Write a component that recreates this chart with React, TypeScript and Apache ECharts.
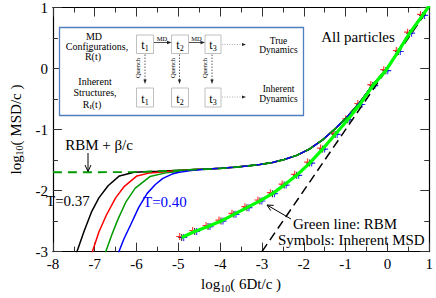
import React, { useEffect, useRef } from "react";
import * as echarts from "echarts";

const F = "Liberation Serif, 'Times New Roman', serif";

// Axis ranges
const xRange = [-8, 1];
const yRange = [-3, 1];

// Slope-one reference line (black dashed)
const diagonal: [number, number][] = [[-3, -3], [1, 1]];

// Common long-time part of the true MSD curves (all temperatures coincide)
const commonTail: [number, number][] = [
  [-4.92, -1.665], [-4.61, -1.656], [-4.29, -1.647], [-3.98, -1.636], [-3.67, -1.619],
  [-3.36, -1.599], [-3.05, -1.573], [-2.75, -1.54], [-2.47, -1.491], [-2.17, -1.423],
  [-1.86, -1.318], [-1.55, -1.169], [-1.25, -0.987], [-0.95, -0.784], [-0.66, -0.557],
  [-0.35, -0.264], [-0.04, -0.026], [0.26, 0.284], [0.53, 0.585], [0.84, 0.875], [1.0, 1.03],
];

// Short-time parts of the true MSD for each temperature
const headT037: [number, number][] = [
  [-7.45, -3.05], [-7.25, -2.66], [-7.07, -2.34], [-6.9, -2.12], [-6.68, -1.92],
  [-6.41, -1.76], [-6.06, -1.70], [-5.5, -1.685],
];
const headT038: [number, number][] = [
  [-7.08, -3.05], [-6.9, -2.68], [-6.72, -2.40], [-6.5, -2.12], [-6.29, -1.93],
  [-5.99, -1.76], [-5.68, -1.71], [-5.3, -1.69],
];
const headT039: [number, number][] = [
  [-6.76, -3.05], [-6.6, -2.74], [-6.45, -2.48], [-6.25, -2.18], [-6.03, -1.96],
  [-5.68, -1.77], [-5.3, -1.71], [-5.05, -1.69],
];
const headT040: [number, number][] = [
  [-6.45, -3.05], [-6.3, -2.79], [-6.14, -2.56], [-5.95, -2.28], [-5.75, -2.05],
  [-5.55, -1.90], [-5.37, -1.80], [-5.15, -1.73], [-4.98, -1.70], [-4.61, -1.665],
];

// RBM + beta/c (green dashed)
const rbmBetaHead: [number, number][] = [
  [-8, -1.70], [-7, -1.70], [-6, -1.695], [-5.5, -1.685],
];

// RBM curve (lime) and inherent MSD symbols
const rbmX = [
  -4.92, -4.61, -4.29, -3.98, -3.67, -3.36, -3.05, -2.75, -2.47, -2.17,
  -1.86, -1.55, -1.25, -0.95, -0.66, -0.35, -0.04, 0.26, 0.53, 0.84,
];
const rbmY = [
  -2.77, -2.67, -2.59, -2.50, -2.39, -2.28, -2.17, -2.05, -1.91, -1.75,
  -1.55, -1.32, -1.08, -0.84, -0.59, -0.28, -0.035, 0.28, 0.58, 0.87,
];
const rbmEnd: [number, number] = [1.0, 1.03];

const tColors = ["#000000", "#ff0000", "#009a00", "#0000ff"];

const plusPath = "path://M0,4.2H10V5.8H0Z M4.2,0H5.8V10H4.2Z";

function withTail(head: [number, number][]) {
  const last = head[head.length - 1][0];
  return head.concat(commonTail.filter((p) => p[0] > last));
}

export default function App() {
  const ref = useRef<HTMLDivElement>(null);
  useEffect(() => {
    if (!ref.current) return;
    const chart = echarts.init(ref.current, null, { renderer: "svg" });
    const rbmPts = rbmX.map((x, i) => [x, rbmY[i]]);
    const axisCommon = {
      type: "value" as const,
      splitLine: { show: false },
      axisLine: { show: true, onZero: false, lineStyle: { color: "#000", width: 1.2 } },
      axisTick: { show: true, inside: true, length: 9, lineStyle: { color: "#333", width: 1 } },
      minorTick: { show: true, splitNumber: 2, length: 5, lineStyle: { color: "#333", width: 1 } },
      minorSplitLine: { show: false },
    };
    const lineS = (data: any, color: string, width: number, type: any = "solid") => ({
      type: "line",
      data,
      symbol: "none",
      showSymbol: false,
      silent: true,
      lineStyle: { color, width, type },
    });
    const scatterS = (color: string, offset: number[]) => ({
      type: "scatter",
      data: rbmPts,
      symbol: plusPath,
      symbolSize: 7,
      symbolOffset: offset,
      itemStyle: { color },
      silent: true,
    });
    const txt = (x: number, y: number, text: string, size: number, extra: any = {}) => ({
      type: "text",
      x,
      y,
      silent: true,
      z: 100,
      style: {
        text,
        fontFamily: F,
        fontSize: size,
        fill: "#000",
        align: "center",
        verticalAlign: "middle",
        ...extra,
      },
    });
    const ln = (x1: number, y1: number, x2: number, y2: number, stroke: string, w: number, dash?: number[]) => ({
      type: "line",
      silent: true,
      z: 100,
      shape: { x1, y1, x2, y2 },
      style: { stroke, lineWidth: w, lineDash: dash },
    });
    const tri = (pts: number[][]) => ({
      type: "polygon",
      silent: true,
      z: 100,
      shape: { points: pts },
      style: { fill: "#222" },
    });
    const box = (x: number, y: number, w: number, h: number) => ({
      type: "rect",
      silent: true,
      z: 100,
      shape: { x, y, width: w, height: h },
      style: { fill: "none", stroke: "#b0b0b0", lineWidth: 0.8 },
    });
    const tRich = { b: { fontSize: 12, fontFamily: F }, s: { fontSize: 8, fontFamily: F, padding: [7, 0, 0, 0] } };
    const quenchX = [145, 179.5, 212];

    const graphic: any[] = [
      {
        type: "rect",
        silent: true,
        z: 99,
        shape: { x: 59.5, y: 27.5, width: 244, height: 88 },
        style: { fill: "#fff", stroke: "#4f7fbf", lineWidth: 1.3 },
      },
      txt(94, 36.5, "MD", 10),
      txt(97, 46.5, "Configurations,", 10),
      txt(93, 56.5, "R(t)", 10),
      ln(86.5, 51.2, 92, 51.2, "#000", 0.7),
      txt(95, 81.5, "Inherent", 10),
      txt(95, 92.5, "Structures,", 10),
      txt(92, 104, "{a|R}{s|I}{a|(t)}", 10, {
        rich: { a: { fontSize: 10, fontFamily: F }, s: { fontSize: 7, fontFamily: F, padding: [5, 0, 0, 0] } },
      }),
      box(136.5, 35, 17, 18.5),
      box(171.5, 35, 17, 18.5),
      box(205, 35, 16, 18.5),
      box(136.5, 88, 17, 19),
      box(171.5, 88, 17, 19),
      box(205, 88, 16, 19),
      txt(145, 45, "{b|t}{s|1}", 12, { rich: tRich }),
      txt(180, 45, "{b|t}{s|2}", 12, { rich: tRich }),
      txt(213, 45, "{b|t}{s|3}", 12, { rich: tRich }),
      txt(145, 99, "{b|t}{s|1}", 12, { rich: tRich }),
      txt(180, 99, "{b|t}{s|2}", 12, { rich: tRich }),
      txt(213, 99, "{b|t}{s|3}", 12, { rich: tRich }),
      ln(154, 42.5, 168, 42.5, "#222", 0.8),
      tri([[171.5, 42.5], [167, 40.7], [167, 44.3]]),
      ln(189, 42.5, 201.5, 42.5, "#222", 0.8),
      tri([[205, 42.5], [200.5, 40.7], [200.5, 44.3]]),
      txt(162, 38.5, "MD", 6.5),
      txt(196.5, 38.5, "MD", 6.5),
      ...quenchX.flatMap((qx) => [
        ln(qx, 54.5, qx, 80, "#333", 0.8, [1.5, 1.5]),
        tri([[qx, 84], [qx - 1.6, 79.5], [qx + 1.6, 79.5]]),
        {
          type: "text",
          x: qx - 7.5,
          y: 68,
          rotation: Math.PI / 2,
          silent: true,
          z: 100,
          style: { text: "Quench", fontFamily: F, fontSize: 6.5, fill: "#000", align: "center", verticalAlign: "middle" },
        },
      ]),
      ln(222, 44.5, 241, 44.5, "#999", 0.8, [1, 1.5]),
      tri([[246, 44.5], [242, 43], [242, 46]]),
      ln(222, 97, 241, 97, "#999", 0.8, [1, 1.5]),
      tri([[246, 97], [242, 95.5], [242, 98.5]]),
      txt(278.5, 41, "True", 9.5),
      txt(278.5, 50, "Dynamics", 9.5),
      txt(278.5, 89, "Inherent", 9.5),
      txt(278.5, 98.5, "Dynamics", 9.5),
      // annotations
      txt(358, 37, "All particles", 15),
      txt(99, 145, "RBM + β/c", 15),
      ln(88, 153, 88, 171, "#000", 1),
      {
        type: "polyline",
        silent: true,
        z: 100,
        shape: { points: [[85, 165], [88, 171.5], [91, 165]] },
        style: { stroke: "#000", lineWidth: 1, fill: "none" },
      },
      txt(46, 201, "T=0.37", 15, { align: "left" }),
      txt(143, 202, "T=0.40", 15, { align: "left", fill: "#0000ff" }),
      txt(293, 224, "Green line: RBM", 15, { align: "left" }),
      txt(278, 240, "Symbols: Inherent MSD", 15, { align: "left" }),
      ln(291, 219, 267.5, 205.3, "#000", 1),
      {
        type: "polyline",
        silent: true,
        z: 100,
        shape: { points: [[273.7, 205.4], [267, 205], [270.7, 210.6]] },
        style: { stroke: "#000", lineWidth: 1, fill: "none" },
      },
    ];

    chart.setOption({
      animation: false,
      backgroundColor: "#fff",
      grid: { left: 43, right: 5, top: 7, bottom: 40, containLabel: false },
      xAxis: [
        {
          ...axisCommon,
          position: "bottom",
          min: xRange[0],
          max: xRange[1],
          interval: 1,
          axisLabel: { fontFamily: F, fontSize: 15, color: "#000", margin: 5 },
          name: "log{s|10}( 6Dt/c )",
          nameLocation: "middle",
          nameGap: 20,
          nameTextStyle: {
            fontFamily: F,
            fontSize: 15,
            color: "#000",
            rich: { s: { fontFamily: F, fontSize: 10, padding: [8, 0, 0, 0] } },
          },
        },
        {
          ...axisCommon,
          position: "top",
          min: xRange[0],
          max: xRange[1],
          interval: 1,
          axisLabel: { show: false },
        },
      ],
      yAxis: [
        {
          ...axisCommon,
          position: "left",
          min: yRange[0],
          max: yRange[1],
          interval: 1,
          axisLabel: { fontFamily: F, fontSize: 15, color: "#000", margin: 5 },
          name: "log{s|10}( MSD/c )",
          nameLocation: "middle",
          nameGap: 26,
          nameRotate: 90,
          nameTextStyle: {
            fontFamily: F,
            fontSize: 15,
            color: "#000",
            rich: { s: { fontFamily: F, fontSize: 10, padding: [8, 0, 0, 0] } },
          },
        },
        {
          ...axisCommon,
          position: "right",
          min: yRange[0],
          max: yRange[1],
          interval: 1,
          axisLabel: { show: false },
        },
      ],
      series: [
        lineS(diagonal, "#000", 1.5, [9, 5]),
        lineS(withTail(headT037), tColors[0], 1.5),
        lineS(withTail(headT038), tColors[1], 1.5),
        lineS(withTail(headT039), tColors[2], 1.5),
        lineS(withTail(headT040), tColors[3], 1.5),
        lineS(rbmBetaHead.concat(commonTail), "#009a00", 1.8, [9, 6]),
        lineS(rbmPts.concat([rbmEnd]), "#00ff00", 3.2),
        scatterS("#000", [0, 0]),
        scatterS("#ff0000", [-2, -1]),
        scatterS("#0000ff", [2, 0]),
      ],
      graphic,
    });
    return () => chart.dispose();
  }, []);
  return <div ref={ref} style={{ width: 436, height: 298, position: "absolute", left: 0, top: 0 }} />;
}
